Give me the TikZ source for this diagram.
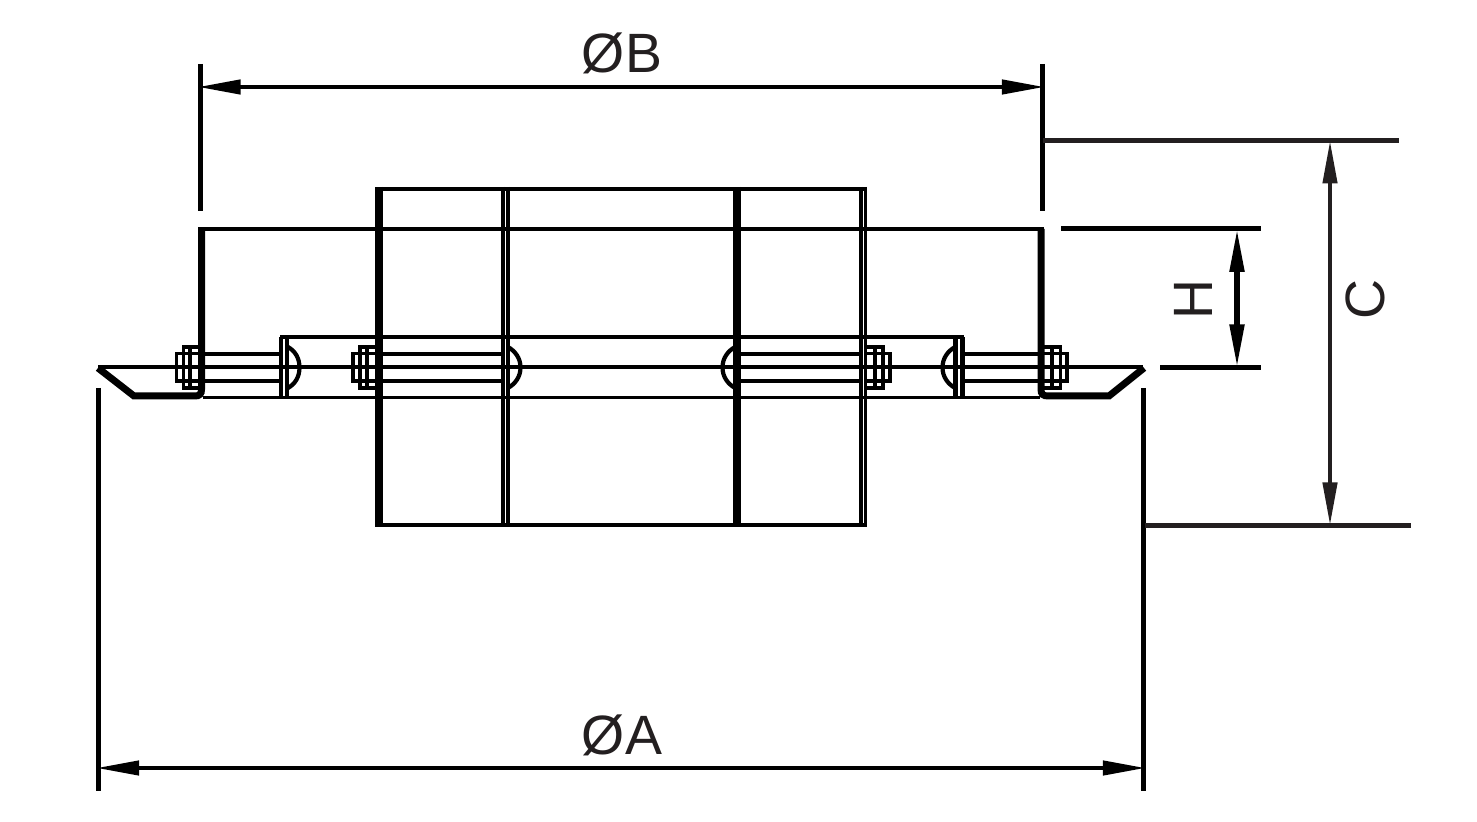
\documentclass[tikz,border=0pt]{standalone}
\usepackage{fontspec}
\setmainfont{Liberation Sans}
\usetikzlibrary{arrows.meta}
\definecolor{ink}{HTML}{231F20}
\tikzset{
  hair/.style={draw=black,line width=1.75pt},
  mid/.style={draw=black,line width=2.1pt},
  bolt/.style={draw=black,line width=2.2pt},
  twin/.style={draw=black,line width=1.85pt},
  wall/.style={draw=black,line width=3.5pt,line join=miter,miter limit=10},
  heavy/.style={draw=black,line width=4pt},
  ext/.style={draw=black,line width=2.5pt},
  extdark/.style={draw=ink,line width=2.5pt},
  dimarrow/.style={draw=black,line width=2.2pt,{Triangle[length=21.5pt,width=7pt]}-{Triangle[length=21.5pt,width=7pt]}},
  dimwide/.style={dimarrow,shorten <=-1.2pt,shorten >=-1.2pt},
  dimtext/.style={font=\fontsize{27.7}{28}\selectfont,text=ink,inner sep=0pt,outer sep=0pt,anchor=center},
}
\begin{document}
\begin{tikzpicture}[x=0.5pt,y=-0.5pt]
\useasboundingbox (0,0) rectangle (1477,822);
\fill[white] (0,0) rectangle (1477,822);

% centre and lower lines
\draw[hair] (98,367) -- (1143,367);
\draw[hair] (203,397.5) -- (1040,397.5);
\draw[hair] (280,337) -- (964,337);

% lid
\draw[hair] (198,229) -- (1044,229);

% walls with flange
\draw[wall] (98,368) -- (134,396) -- (195,396) .. controls (199.5,396) and (201.5,394) .. (201.5,389.5) -- (201.5,229);
\draw[wall] (1144,368) -- (1109,396) -- (1048,396) .. controls (1043,396) and (1041,394) .. (1041,389.5) -- (1041,229);

% plates
\draw[mid] (281,398) -- (281,337);
\draw[mid] (287,398) -- (287,337);
\draw[mid] (955.5,398) -- (955.5,337);
\draw[mid] (962.5,398) -- (962.5,337);

% bolts
\foreach \y in {354,381}{
  \draw[bolt] (203,\y) -- (280,\y);
  \draw[bolt] (380,\y) -- (505,\y);
  \draw[bolt] (737,\y) -- (863,\y);
  \draw[bolt] (964,\y) -- (1040,\y);
}
% domes
\draw[mid] (288,347) .. controls (295,351) and (299.5,358) .. (299.5,367.5) .. controls (299.5,377) and (295,384) .. (288,388);
\draw[mid] (508,347) .. controls (515,351) and (520.5,358) .. (520.5,367.5) .. controls (520.5,377) and (515,384) .. (508,388);
\draw[mid] (735,347) .. controls (728,351) and (722.5,358) .. (722.5,367.5) .. controls (722.5,377) and (728,384) .. (735,388);
\draw[mid] (955,347) .. controls (948,351) and (942.5,358) .. (942.5,367.5) .. controls (942.5,377) and (948,384) .. (955,388);

% nuts
\draw[hair] (198,353.5) -- (176.5,353.5) -- (176.5,381) -- (198,381);
\draw[hair] (198,347) -- (183.5,347) -- (183.5,388) -- (198,388);
\draw[hair] (190,347) -- (190,388);
\draw[hair] (376,353.5) -- (353,353.5) -- (353,381) -- (376,381);
\draw[hair] (376,347) -- (360,347) -- (360,388) -- (376,388);
\draw[hair] (367,347) -- (367,388);
\draw[hair] (866,353.5) -- (890,353.5) -- (890,381) -- (866,381);
\draw[hair] (866,347) -- (883,347) -- (883,388) -- (866,388);
\draw[hair] (875,347) -- (875,388);
\draw[hair] (1044,353.5) -- (1067,353.5) -- (1067,381) -- (1044,381);
\draw[hair] (1044,347) -- (1060.5,347) -- (1060.5,388) -- (1044,388);
\draw[hair] (1052,347) -- (1052,388);

% body
\draw[bolt] (375.5,189) -- (867,189);
\draw[bolt] (375.5,525) -- (867,525);
\draw[heavy] (379.3,187) -- (379.3,527);
\draw[heavy] (737.3,187) -- (737.3,527);
\draw[twin] (503.1,187) -- (503.1,527);
\draw[twin] (507.7,187) -- (507.7,527);
\draw[twin] (861.1,187) -- (861.1,527);
\draw[twin] (865.5,187) -- (865.5,527);

% extension lines
\coordinate (bl) at (200,87);
\coordinate (br) at (1042.5,87);
\coordinate (al) at (98.5,768);
\coordinate (ar) at (1143.5,768);
\coordinate (ct) at (1330,140.5);
\coordinate (cb) at (1330,525.5);
\coordinate (ht) at (1237,229);
\coordinate (hb) at (1237,367.3);
\draw[ext] (200,64) -- (200,211);
\draw[ext] (1042.5,64) -- (1042.5,211);
\draw[ext,line width=2.1pt] (98.5,388) -- (98.5,791);
\draw[ext,line width=2.1pt] (1143.5,388) -- (1143.5,791);
\draw[extdark] (1043,140.5) -- (1399,140.5);
\draw[extdark,line width=2.2pt] (1145,525.5) -- (1411,525.5);
\draw[ext] (1061,229) -- (1261,229);
\draw[ext] (1160,367.3) -- (1261,367.3);

% dimension arrows
\draw[dimwide] (bl) -- (br);
\draw[dimwide] (al) -- (ar);
\draw[dimarrow,draw=ink,fill=black] (ct) -- (cb);
\draw[dimarrow,line width=2.6pt] (ht) -- (hb);

% labels
\node[dimtext] (labB) at (622,53) {ØB};
\node[dimtext] (labA) at (622,735) {ØA};
\node[dimtext,rotate=90] (labH) at (1193,300) {H};
\node[dimtext,rotate=90] (labC) at (1365.5,300) {C};
\end{tikzpicture}
\end{document}
